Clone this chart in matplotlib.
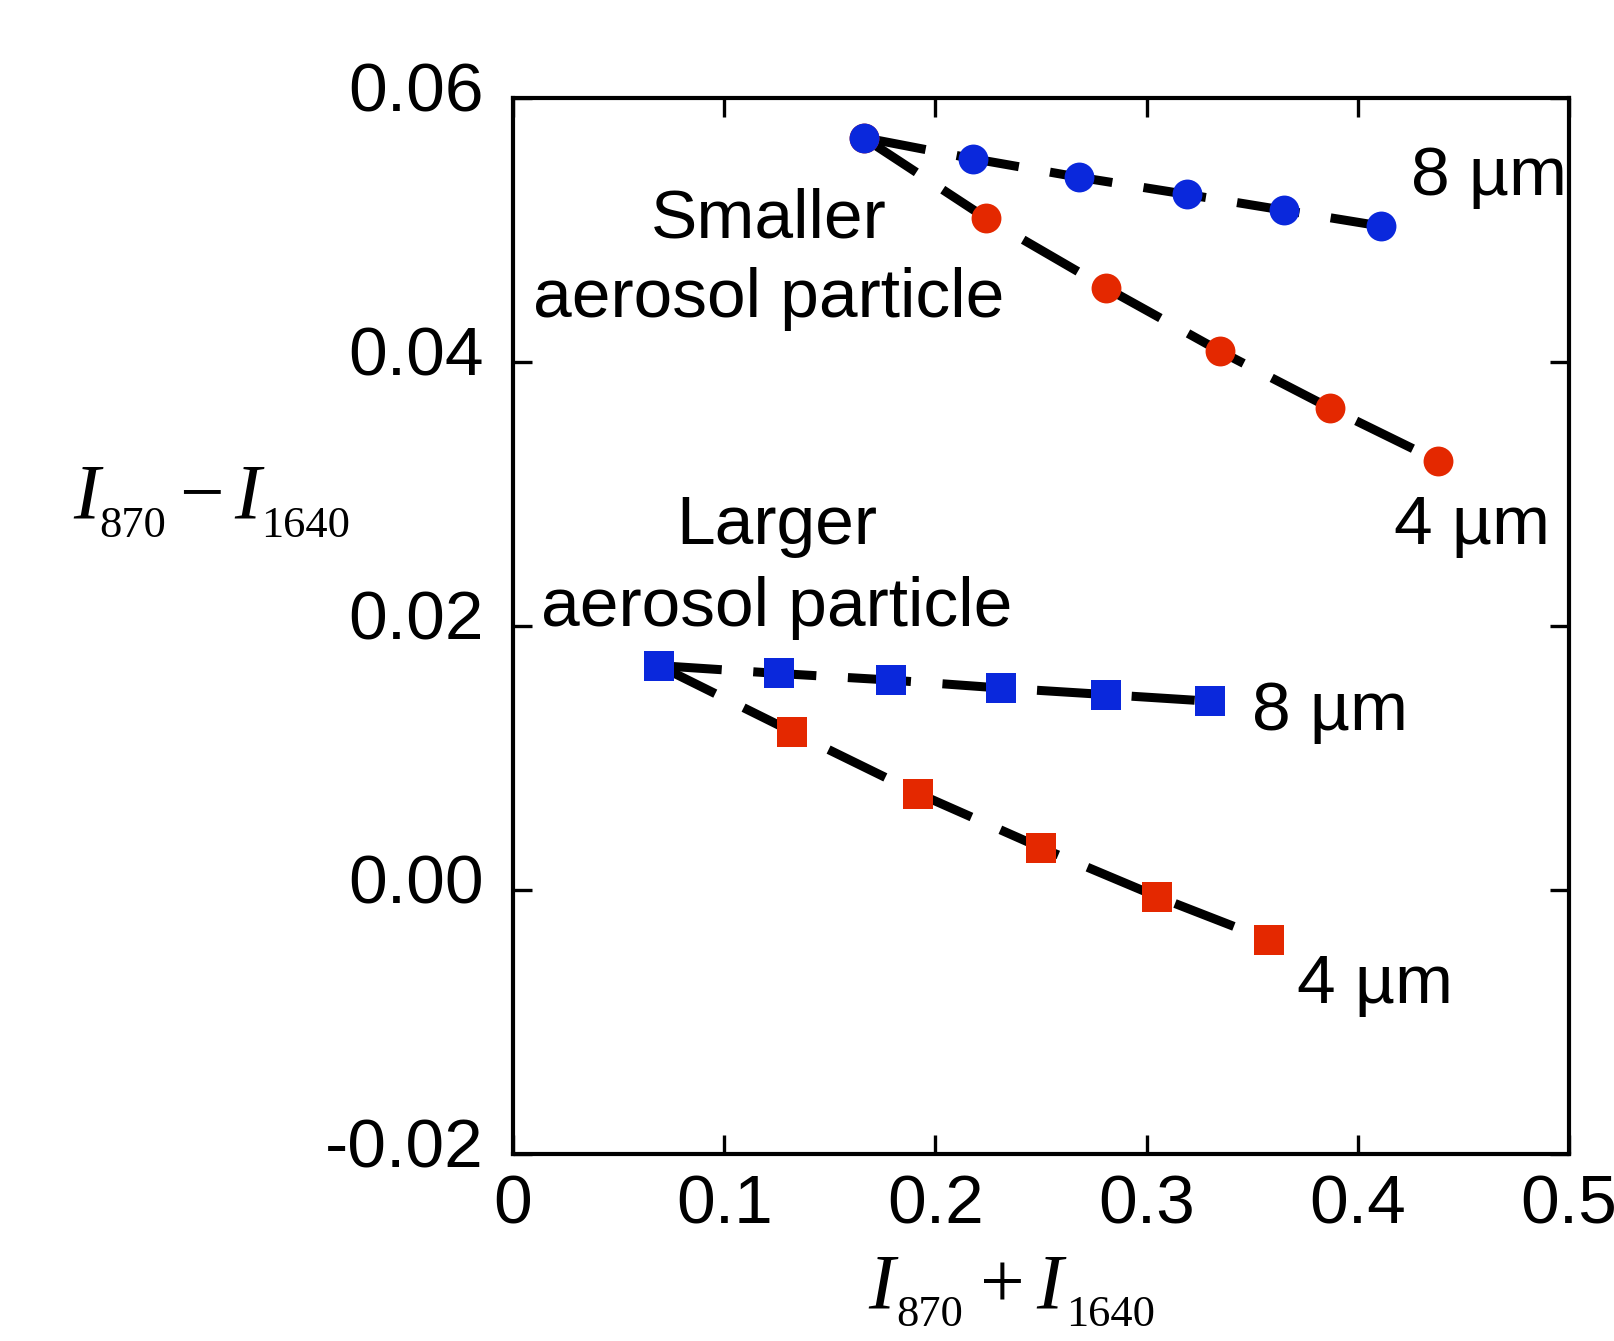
import matplotlib
matplotlib.use("Agg")
import matplotlib.pyplot as plt
import matplotlib.transforms as mtransforms

plt.rcParams['font.family'] = ['Liberation Sans', 'DejaVu Sans']

# smaller particles (circles)
x_small_8 = [0.166, 0.218, 0.268, 0.319, 0.365, 0.411]
y_small_8 = [0.0570, 0.0554, 0.0540, 0.0527, 0.0515, 0.0503]
x_small_4 = [0.166, 0.224, 0.281, 0.335, 0.387, 0.438]
y_small_4 = [0.0570, 0.0509, 0.0456, 0.0408, 0.0365, 0.0325]

# larger particles (squares)
x_large_8 = [0.069, 0.126, 0.179, 0.231, 0.281, 0.330]
y_large_8 = [0.0170, 0.0164, 0.0159, 0.0153, 0.0148, 0.0143]
x_large_4 = [0.069, 0.132, 0.192, 0.250, 0.305, 0.358]
y_large_4 = [0.0170, 0.0120, 0.0073, 0.0032, -0.0005, -0.0038]

xticks = [0, 0.1, 0.2, 0.3, 0.4, 0.5]
xtick_labels = ['0', '0.1', '0.2', '0.3', '0.4', '0.5']
yticks = [-0.02, 0.0, 0.02, 0.04, 0.06]
ytick_labels = ['-0.02', '0.00', '0.02', '0.04', '0.06']

BLUE = '#0a28dc'
RED = '#e42800'
dash = (0, (7, 3.5))

W, H = 1615, 1341
fig = plt.figure(figsize=(W / 100, H / 100), dpi=100)
ax = fig.add_axes([0.3176, 0.1395, 0.6539, 0.7874])

series = [
    (x_small_4, y_small_4, RED, 'o'),
    (x_small_8, y_small_8, BLUE, 'o'),
    (x_large_4, y_large_4, RED, 's'),
    (x_large_8, y_large_8, BLUE, 's'),
]
for xs, ys, c, m in series:
    ax.plot(xs, ys, color='black', lw=6.5, linestyle=dash,
            dash_capstyle='butt', zorder=2)
for xs, ys, c, m in series:
    ax.plot(xs, ys, linestyle='none', marker=m, color=c,
            markersize=21.5, markeredgewidth=0, zorder=3)

ax.set_xlim(0, 0.5)
ax.set_ylim(-0.02, 0.06)
ax.set_xticks(xticks)
ax.set_xticklabels(xtick_labels)
ax.set_yticks(yticks)
ax.set_yticklabels(ytick_labels)
ax.tick_params(direction='in', length=14, width=2.4, top=True, right=True,
               labelsize=50)
ax.tick_params(axis='x', pad=14)
ax.tick_params(axis='y', pad=21)
for s in ax.spines.values():
    s.set_linewidth(3)

# y tick labels sit a bit above their ticks
shift = mtransforms.ScaledTranslation(0, 8 / 72, fig.dpi_scale_trans)
for lab in ax.get_yticklabels():
    lab.set_transform(lab.get_transform() + shift)

fs = 50
ax.text(0.1212, 0.04947, 'Smaller', ha='center', va='baseline', fontsize=fs)
ax.text(0.1212, 0.04341, 'aerosol particle', ha='center', va='baseline', fontsize=fs)
ax.text(0.125, 0.02621, 'Larger', ha='center', va='baseline', fontsize=fs)
ax.text(0.125, 0.0200, 'aerosol particle', ha='center', va='baseline', fontsize=fs)

ax.text(0.4252, 0.05265, '8 µm', ha='left', va='baseline', fontsize=fs, clip_on=False)
ax.text(0.4171, 0.02621, '4 µm', ha='left', va='baseline', fontsize=fs, clip_on=False)
ax.text(0.3499, 0.01212, '8 µm', ha='left', va='baseline', fontsize=fs)
ax.text(0.3712, -0.00856, '4 µm', ha='left', va='baseline', fontsize=fs)


def label_piece(px, py, s, size, italic=False):
    # px, py: left / baseline in image pixels (origin top left)
    fig.text(px / W, 1 - py / H, s, ha='left', va='baseline', fontsize=size,
             family='Liberation Serif', style='italic' if italic else 'normal')


# axis labels, built piece by piece (Times-like italic I with subscripts)
label_piece(73, 517, 'I', 57, italic=True)
label_piece(99, 537, '870', 32)
label_piece(179, 517, '\u2212', 57)
label_piece(234, 517, 'I', 57, italic=True)
label_piece(261, 537, '1640', 32)

label_piece(868, 1308, 'I', 57, italic=True)
label_piece(896, 1326, '870', 32)
label_piece(980, 1308, '+', 57)
label_piece(1036, 1308, 'I', 57, italic=True)
label_piece(1066, 1326, '1640', 32)

fig.savefig('out.png', dpi=100)
